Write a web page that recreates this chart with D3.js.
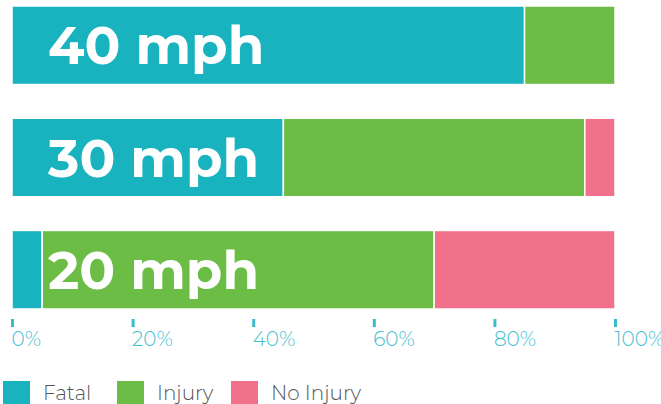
<!DOCTYPE html>
<html>
<head>
<meta charset="utf-8">
<script src="https://cdn.jsdelivr.net/npm/d3@7"></script>
<style>
  body { margin: 0; background: #fff; }
  svg { display: block; }
</style>
</head>
<body>
<svg id="chart" width="661" height="404"></svg>
<script>
const speeds = ['40 mph', '30 mph', '20 mph']
const fatal = [85, 45, 5]
const injury = [15, 50, 65]
const noInjury = [0, 5, 30]
const seriesNames = ['Fatal', 'Injury', 'No Injury']
const seriesColors = ['#18b3bf', '#6bbd45', '#f1718c']
const xTicks = [0, 20, 40, 60, 80, 100]

const rows = speeds.map((s, i) => ({ speed: s, Fatal: fatal[i], Injury: injury[i], 'No Injury': noInjury[i] }))

const svg = d3.select('#chart')

const xScale = d3.scaleLinear()
  .domain([0, 100])
  .range([12, 615])

const yScale = d3.scaleBand()
  .domain(speeds)
  .range([6, 309])
  .paddingInner(0.3)
  .paddingOuter(0)

const color = d3.scaleOrdinal()
  .domain(seriesNames)
  .range(seriesColors)

const stacked = d3.stack().keys(seriesNames)(rows)

svg.append('g')
  .selectAll('g')
  .data(stacked)
  .join('g')
  .attr('fill', d => color(d.key))
  .selectAll('rect')
  .data(d => d.filter(p => p[1] - p[0] > 0))
  .join('rect')
  .attr('x', d => xScale(d[0]))
  .attr('y', d => yScale(d.data.speed))
  .attr('width', d => xScale(d[1]) - xScale(d[0]))
  .attr('height', yScale.bandwidth())
  .attr('stroke', '#fff')
  .attr('stroke-width', 1.5)

// speed labels inside bars
svg.append('g')
  .selectAll('text')
  .data(speeds)
  .join('text')
  .attr('x', 48)
  .attr('y', d => yScale(d) + yScale.bandwidth() / 2)
  .attr('dy', '0.36em')
  .style('font-family', 'Montserrat, Lato, sans-serif')
  .style('font-weight', 700)
  .style('font-size', '53px')
  .style('fill', '#fff')
  .text(d => d)

// x axis
const xAxis = d3.axisBottom(xScale)
  .tickValues(xTicks)
  .tickSize(8)
  .tickFormat(d => `${d}%`)

function customXAxis (g) {
  g.call(xAxis)
  g.select('.domain').remove()
  g.selectAll('.tick line')
    .style('stroke', '#3bbccb')
    .style('stroke-width', 3)
  g.selectAll('.tick text')
    .attr('text-anchor', 'start')
    .attr('x', -1)
    .attr('y', 13)
    .style('font-family', 'Montserrat, Lato, sans-serif')
    .style('font-weight', 300)
    .style('font-size', '20px')
    .style('fill', '#45c0cf')
}

svg.append('g')
  .attr('transform', 'translate(0,319)')
  .call(customXAxis)

// legend
const legendX = [3, 117, 231]
const legend = svg.append('g')
  .selectAll('g')
  .data(seriesNames)
  .join('g')
  .attr('transform', (d, i) => `translate(${legendX[i]},381)`)

legend.append('rect')
  .attr('width', 27)
  .attr('height', 23)
  .attr('fill', d => color(d))

legend.append('text')
  .attr('x', 40)
  .attr('y', 12)
  .attr('dy', '0.36em')
  .style('font-family', 'Montserrat, Lato, sans-serif')
  .style('font-weight', 300)
  .style('font-size', '20px')
  .style('fill', '#555')
  .text(d => d)
</script>
</body>
</html>
